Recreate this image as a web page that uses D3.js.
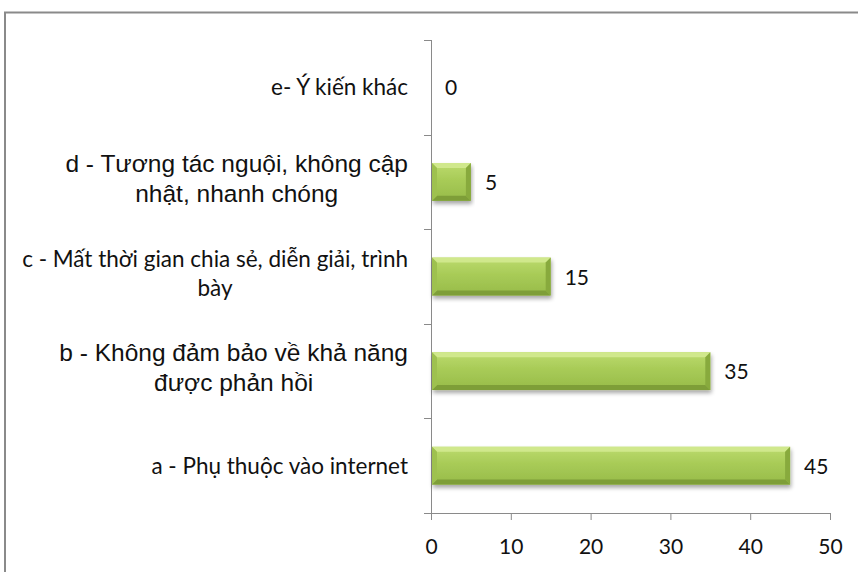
<!DOCTYPE html>
<html><head><meta charset="utf-8">
<script src="https://cdn.jsdelivr.net/npm/d3@7"></script>
<style>body{margin:0;background:#fff;} svg{display:block;}</style>
</head><body>
<script>
const categories = [
  ["a - Phụ thuộc vào internet"],
  ["b - Không đảm bảo về khả năng", "được phản hồi"],
  ["c - Mất thời gian chia sẻ, diễn giải, trình", "bày"],
  ["d - Tương tác nguội, không cập", "nhật, nhanh chóng"],
  ["e- Ý kiến khác"]
];
const values = [45, 35, 15, 5, 0];
const labelFonts = ["calibri", "arial", "calibri", "arial", "calibri"];
const xTicks = [0, 10, 20, 30, 40, 50];

(function(){
const W = 858, H = 572;
const svg = d3.select("body").append("svg").attr("width", W).attr("height", H);
const defs = svg.append("defs");
const g1 = defs.append("linearGradient").attr("id","barGrad").attr("x1",0).attr("y1",0).attr("x2",0).attr("y2",1);
g1.append("stop").attr("offset","0%").attr("stop-color","#bcdb6e");
g1.append("stop").attr("offset","45%").attr("stop-color","#a8cb57");
g1.append("stop").attr("offset","100%").attr("stop-color","#97bb49");
const f = defs.append("filter").attr("id","shadow").attr("x","-5%").attr("y","-20%").attr("width","115%").attr("height","160%");
f.append("feGaussianBlur").attr("in","SourceAlpha").attr("stdDeviation",2);
f.append("feOffset").attr("dx",1).attr("dy",3).attr("result","ob");
f.append("feComponentTransfer").append("feFuncA").attr("type","linear").attr("slope",0.35);
const fm = f.append("feMerge"); fm.append("feMergeNode"); fm.append("feMergeNode").attr("in","SourceGraphic");

const calFam = "Lato, 'Open Sans', sans-serif";
const arFam = "'Liberation Sans', Arial, sans-serif";

// chart border
svg.append("rect").attr("x",5).attr("y",12.5).attr("width",W+10).attr("height",H+10)
  .attr("fill","none").attr("stroke","#8a8a8a").attr("stroke-width",2);

const pl = 431, pr = 830, pt = 40, pb = 513;
const x = d3.scaleLinear().domain([0,50]).range([pl,pr]);
const y = d3.scaleBand().domain(d3.range(categories.length)).range([pb, pt]).paddingInner(0.6).paddingOuter(0.3);
const yb = d3.scaleBand().domain(d3.range(categories.length)).range([pb, pt]);

// axes
const xAxis = svg.append("g").attr("transform",`translate(0,${pb})`)
  .call(d3.axisBottom(x).tickValues(xTicks).tickSize(7).tickPadding(19));
xAxis.select(".domain").attr("d",`M${pl-7},0.5H${pr}`);
xAxis.selectAll("line,path").attr("stroke","#8a8a8a");
xAxis.selectAll("text").attr("font-family",calFam).attr("font-size",21).attr("fill","#111");

const yAxis = svg.append("g");
yAxis.append("line").attr("x1",pl+0.5).attr("x2",pl+0.5).attr("y1",pt).attr("y2",pb).attr("stroke","#8a8a8a");
const bounds = d3.range(categories.length+1).map(i => i < categories.length ? yb(i)+yb.bandwidth() : yb(categories.length-1));
yAxis.selectAll("line.t").data(bounds).join("line").attr("class","t")
  .attr("x1",pl-7).attr("x2",pl).attr("y1",d=>Math.round(d)+0.5).attr("y2",d=>Math.round(d)+0.5).attr("stroke","#8a8a8a");

// bars
const bars = svg.append("g");
values.forEach((v,i) => {
  if (v <= 0) return;
  const x0 = x(0)+1, x1 = x(v), y0 = y(i), h = y.bandwidth(), y1 = y0+h, b = 5;
  const gg = bars.append("g").attr("filter","url(#shadow)");
  gg.append("rect").attr("x",x0).attr("y",y0).attr("width",x1-x0).attr("height",h).attr("fill","url(#barGrad)");
  gg.append("path").attr("d",`M${x0},${y0}L${x1},${y0}L${x1-b},${y0+b}L${x0+b},${y0+b}Z`).attr("fill","#d0e88c");
  gg.append("path").attr("d",`M${x0},${y1}L${x1},${y1}L${x1-b},${y1-b}L${x0+b},${y1-b}Z`).attr("fill","#7e9e38");
  gg.append("path").attr("d",`M${x1},${y0}L${x1},${y1}L${x1-b},${y1-b}L${x1-b},${y0+b}Z`).attr("fill","#88aa3e");
  gg.append("path").attr("d",`M${x0},${y0}L${x0},${y1}L${x0+b},${y1-b}L${x0+b},${y0+b}Z`).attr("fill","#9ec150");
});

// value labels
svg.append("g").selectAll("text").data(values).join("text")
  .attr("x",d=>x(d)+14).attr("y",(d,i)=>y(i)+y.bandwidth()/2+8)
  .attr("font-family",calFam).attr("font-size",21).attr("fill","#111")
  .text(d=>d);

// category labels
const labelRight = 408;
const lg = svg.append("g");
categories.forEach((lines,i) => {
  const isArial = labelFonts[i] === "arial";
  const fam = isArial ? arFam : calFam;
  const fs = isArial ? 24.5 : 22.5;
  const lh = isArial ? 30 : 29;
  const cy = yb(i) + yb.bandwidth()/2;
  const t = lg.append("text").attr("font-family",fam).attr("font-size",fs).attr("fill","#111");
  const startY = cy - (lines.length-1)*lh/2 - (lines.length>1?3:0) + 8;
  lines.forEach((ln,k) => t.append("tspan").attr("y",startY+k*lh).text(ln));
  let maxW = 0;
  t.selectAll("tspan").each(function(){ maxW = Math.max(maxW, this.getComputedTextLength()); });
  t.attr("text-anchor","middle");
  t.selectAll("tspan").attr("x", labelRight - maxW/2);
});
})();
</script>
</body></html>
